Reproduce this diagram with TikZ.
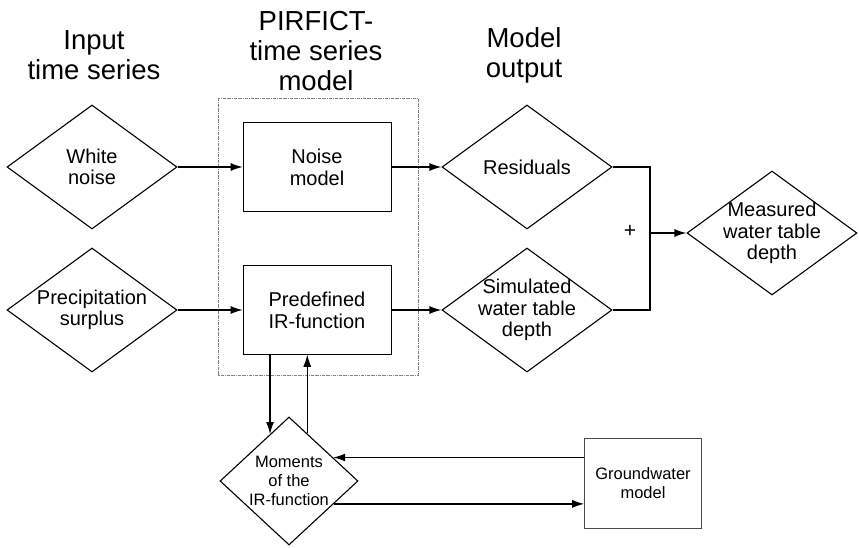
\documentclass[tikz,border=0pt]{standalone}
\usepackage{fontspec}
\setmainfont{Liberation Sans}
\usetikzlibrary{shapes.geometric,arrows.meta,positioning}

\tikzset{
  head/.style={align=center, font=\fontsize{27.5}{30}\selectfont},
  tsdiam/.style={diamond, draw, line width=1.1pt, align=center, inner sep=-9pt,
    minimum width=170pt, minimum height=124pt, shape aspect=1.36,
    font=\fontsize{20}{21.5}\selectfont},
  modbox/.style={draw, line width=0.6pt, align=center,
    minimum width=148pt, minimum height=89pt, font=\fontsize{20}{22}\selectfont},
  flow/.style={line width=1.3pt, -{Latex[length=12pt,width=8pt]}},
  thinflow/.style={line width=0.9pt, -{Latex[length=12pt,width=8pt]}},
}

\begin{document}
\begin{tikzpicture}[x=1pt, y=-1pt]
  \useasboundingbox (0,0) rectangle (859,547);

  % headings
  \node[head] (hin) at (94,55) {Input\\time series};
  \node[head] (hpir) at (316,51) {PIRFICT-\\time series\\model};
  \node[head] (hout) at (524,55) {Model\\output};

  % time series model frame
  \draw[gray, line width=0.6pt, densely dash dot] (218,98) rectangle (418,375);

  \node[tsdiam] (white) at (92,167) {White\\noise};
  \node[tsdiam] (precip) at (92,310) {Precipitation\\surplus};
  \node[modbox] (noise) at (317,167) {Noise\\model};
  \node[modbox] (irf) at (317,310) {Predefined\\IR-function};
  \node[tsdiam] (resid) at (527,167) {Residuals};
  \node[tsdiam] (sim) at (527,310) {Simulated\\water table\\depth};
  \node[tsdiam] (meas) at (772,233) {Measured\\water table\\depth};
  \node[tsdiam, minimum width=138pt, minimum height=128pt, shape aspect=1.08,
    font=\fontsize{16.5}{19}\selectfont] (mom) at (289,481) {Moments\\of the\\IR-function};
  \node[modbox, draw=black!70, minimum width=117pt, minimum height=90pt,
    font=\fontsize{16.5}{19}\selectfont] (gw) at (643,483) {Groundwater\\model};

  \draw[flow] (white) -- (noise);
  \draw[flow] (precip) -- (irf);
  \draw[flow] (noise) -- (resid);
  \draw[flow] (irf) -- (sim);

  % sum of residuals and simulation
  \coordinate (sum) at (650,233);
  \draw[line width=1.3pt] (resid.east) -| (sum) |- (sim.east);
  \draw[flow] (sum) -- (meas);
  \node[font=\fontsize{21}{22}\selectfont] (plus) at (630,231) {+};

  \draw[flow] (irf.south -| mom.112) -- (mom.112);
  \draw[thinflow] (mom.69) -- (mom.69 |- irf.south);
  \draw[flow] (gw.west |- mom.28) -- (mom.28);
  \draw[flow] (mom.-27) -- (mom.-27 -| gw.west);

\end{tikzpicture}
\end{document}
